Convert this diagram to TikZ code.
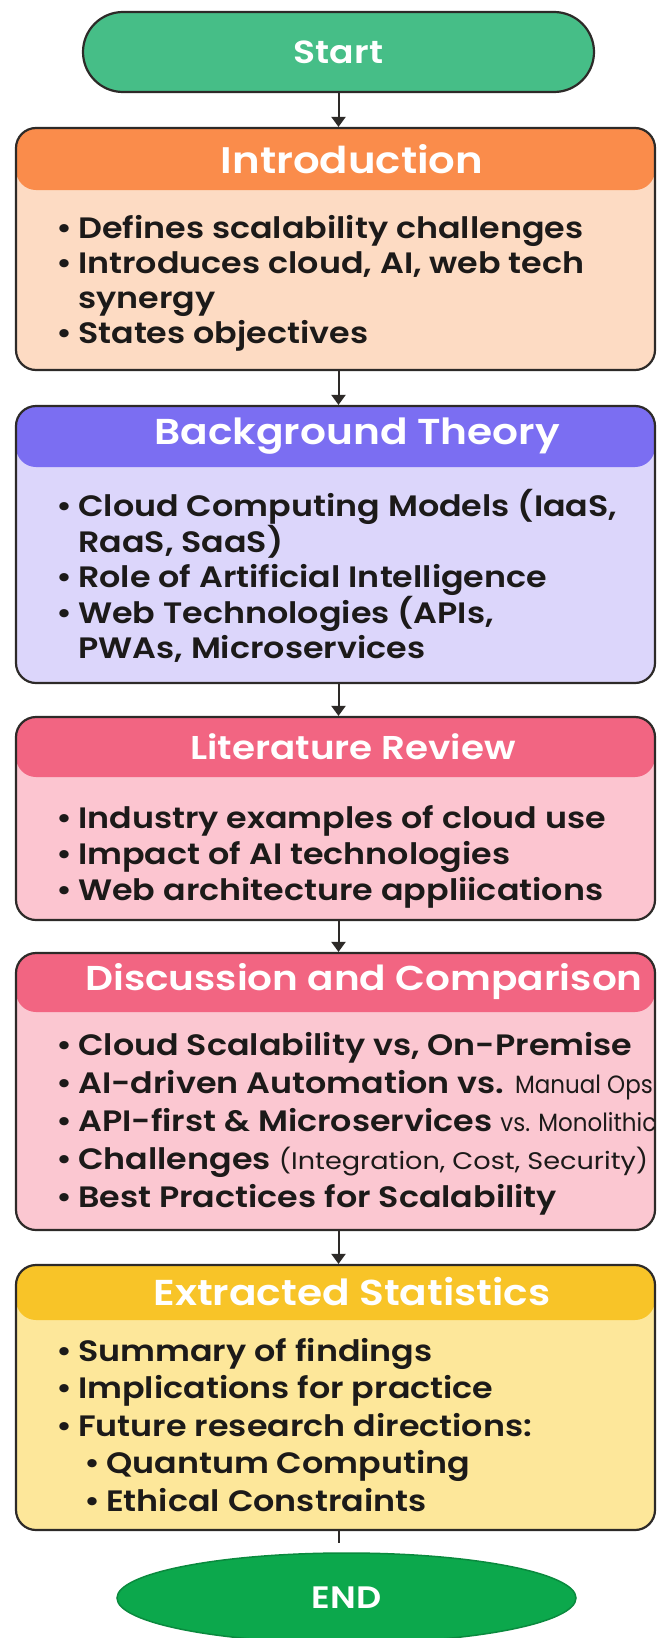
\documentclass[tikz,border=0pt]{standalone}
\usepackage{fontspec}
\setmainfont{Poppins}[FakeStretch=1.13, BoldFont={Poppins SemiBold}]
\newfontfamily\narrowf{Poppins}[FakeStretch=0.92]
\usetikzlibrary{arrows.meta,shapes.geometric}
\definecolor{edge}{HTML}{2D2A28}
\definecolor{startgreen}{HTML}{46BE87}
\definecolor{endgreen}{HTML}{0CA84C}
\definecolor{enddark}{HTML}{0A8A3E}
\definecolor{introhead}{HTML}{FA8C4B}
\definecolor{introbody}{HTML}{FDDBC3}
\definecolor{bghead}{HTML}{7B6EF2}
\definecolor{bgbody}{HTML}{DCD6FB}
\definecolor{lithead}{HTML}{F26582}
\definecolor{litbody}{HTML}{FCC5D0}
\definecolor{dischead}{HTML}{F26582}
\definecolor{discbody}{HTML}{FBC7D1}
\definecolor{exthead}{HTML}{F8C428}
\definecolor{extbody}{HTML}{FDE79A}
\definecolor{ink}{HTML}{1C1A19}
\newcommand{\bl}{\makebox[22pt][l]{•}}
\newcommand{\sbl}{\hspace*{28pt}\makebox[22pt][l]{•}}
\begin{document}
\begin{tikzpicture}[x=1pt,y=-1pt,
  sect/.style={draw=edge, line width=2.2pt, rounded corners=20pt, minimum width=639pt, inner sep=0pt},
  hband/.style 2 args={path picture={\fill[#1] (path picture bounding box.north west) rectangle ([yshift=-#2]path picture bounding box.north east);}},
  hdr/.style={font=\bfseries\fontsize{36}{40}\selectfont, text=white, inner sep=0pt},
  body/.style={font=\bfseries\fontsize{29.5}{35}\selectfont, text=ink, align=left, inner sep=0pt, anchor=west},
  arr/.style={draw=edge, line width=2pt, -{Triangle[length=10pt,width=14pt]}}
]
\useasboundingbox (0,0) rectangle (656,1638);
\fill[white] (0,0) rectangle (656,1638);

% Start
\node[draw=edge, fill=startgreen, line width=2.2pt, rounded corners=40pt,
      minimum width=511pt, minimum height=80pt, text=white,
      font=\bfseries\fontsize{32}{36}\selectfont] (start) at (338.5,52) {Start};

% Introduction
\node[sect, fill=introbody, minimum height=242pt, hband={introhead}{62pt}] (intro) at (335.5,249) {};
\node[hdr, font=\bfseries\fontsize{37}{40}\selectfont] (introT) at (352,159) {Introduction};
\node[body] (introB) at (56,283.5) {\bl Defines scalability challenges\\
\bl Introduces cloud, AI, web tech\\
\hspace*{22pt}synergy\\
\bl States objectives};

% Background Theory
\node[sect, fill=bgbody, minimum height=277pt, hband={bghead}{61pt}] (bg) at (335.5,544.5) {};
\node[hdr] (bgT) at (357,436) {Background Theory};
\node[body] (bgB) at (56,576) {\bl Cloud Computing Models (IaaS,\\
\hspace*{22pt}RaaS, SaaS)\\
\bl Role of Artificial Intelligence\\
\bl Web Technologies (APIs,\\
\hspace*{22pt}PWAs, Microservices};

% Literature Review
\node[sect, fill=litbody, minimum height=203pt, hband={lithead}{60pt}] (lit) at (335.5,818.5) {};
\node[hdr, font=\bfseries\fontsize{33}{40}\selectfont] (litT) at (353,747) {Literature Review};
\node[body, font=\bfseries\fontsize{29.5}{36}\selectfont] (litB) at (56,857) {\bl Industry examples of cloud use\\
\bl Impact of AI technologies\\
\bl Web architecture appliications};

% Discussion and Comparison
\node[sect, fill=discbody, minimum height=277pt, hband={dischead}{59pt}] (disc) at (335.5,1091.5) {};
\node[hdr, font=\bfseries\fontsize{34.5}{40}\selectfont] (discT) at (364,982) {Discussion and Comparison};
\node[body, font=\bfseries\fontsize{29.5}{38}\selectfont] (discB) at (56,1124) {\bl Cloud Scalability vs, On-Premise\\
\bl AI-driven Automation vs. {\narrowf\mdseries\fontsize{25}{38}\selectfont Manual Ops}\\
\bl API-first \& Microservices {\narrowf\mdseries\fontsize{25}{38}\selectfont vs. Monolithic}\\
\bl Challenges {\mdseries\fontsize{24}{38}\selectfont (Integration, Cost, Security)}\\
\bl Best Practices for Scalability};

% Extracted Statistics
\node[sect, fill=extbody, minimum height=265pt, hband={exthead}{55pt}] (ext) at (335.5,1397.5) {};
\node[hdr] (extT) at (352,1292) {Extracted Statistics};
\node[body, font=\bfseries\fontsize{29.5}{37.5}\selectfont] (extB) at (56,1425) {\bl Summary of findings\\
\bl Implications for practice\\
\bl Future research directions:\\
\sbl Quantum Computing\\
\sbl Ethical Constraints};

% END
\node[ellipse, fill=endgreen, draw=enddark, line width=1.5pt, minimum width=459pt,
      minimum height=90pt, inner sep=0pt, text=white,
      font=\bfseries\fontsize{31}{34}\selectfont] (end) at (346.5,1598) {END};

% connectors
\draw[arr] (start.south) -- (start.south |- intro.north);
\draw[arr] (intro.south -| start.south) -- (bg.north -| start.south);
\draw[arr] (bg.south -| start.south) -- (lit.north -| start.south);
\draw[arr] (lit.south -| start.south) -- (disc.north -| start.south);
\draw[arr] (disc.south -| start.south) -- (ext.north -| start.south);
\coordinate (stub) at (338.5,1543);
\draw[draw=edge, line width=2pt] (ext.south -| start.south) -- (stub);
\end{tikzpicture}
\end{document}
